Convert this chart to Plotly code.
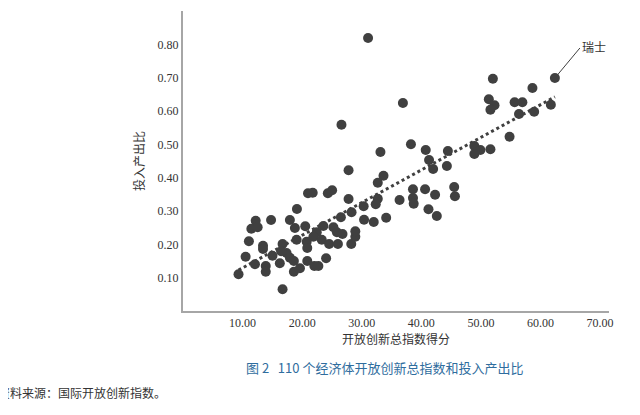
import numpy as np
import plotly.graph_objects as go

# 开放创新总指数得分 vs 投入产出比
score = [31.06, 62.42, 52.01, 58.65, 36.91, 51.33, 52.28, 51.6, 55.66, 56.96,
         56.4, 58.94, 61.74, 26.6, 54.81, 38.26, 40.74, 44.46, 33.14, 48.9,
         49.92, 51.6, 48.9, 41.3, 41.98, 44.29, 27.79, 33.65, 32.69, 45.52,
         45.64, 38.6, 40.63, 42.31, 36.35, 38.6, 38.72, 41.2, 42.6, 32.69,
         32.35, 30.32, 20.98, 21.77, 24.31, 25.03, 27.79, 28.29, 19.12, 26.5,
         30.39, 32.01, 34.1, 12.2, 14.78, 11.47, 12.53, 17.94, 18.78, 20.52,
         23.56, 25.25, 25.83, 26.77, 22.45, 21.88, 11.06, 19.07, 20.76, 23.29,
         24.53, 26.0, 28.24, 28.92, 28.92, 13.43, 16.71, 20.86, 15.02, 17.38,
         17.94, 10.51, 12.08, 13.89, 13.89, 16.25, 18.61, 20.86, 24.02, 18.61,
         19.63, 22.04, 22.72, 9.32, 16.71, 16.47, 13.43]
ratio = [0.819, 0.699, 0.697, 0.669, 0.624, 0.635, 0.617, 0.604, 0.626, 0.626,
         0.591, 0.598, 0.619, 0.559, 0.523, 0.500, 0.483, 0.480, 0.477, 0.495,
         0.483, 0.485, 0.471, 0.453, 0.426, 0.435, 0.422, 0.406, 0.385, 0.372,
         0.344, 0.365, 0.365, 0.349, 0.333, 0.339, 0.322, 0.305, 0.285, 0.337,
         0.320, 0.314, 0.353, 0.355, 0.353, 0.362, 0.336, 0.296, 0.306, 0.281,
         0.274, 0.267, 0.280, 0.271, 0.273, 0.247, 0.251, 0.273, 0.249, 0.254,
         0.255, 0.251, 0.236, 0.231, 0.236, 0.223, 0.209, 0.214, 0.208, 0.214,
         0.201, 0.201, 0.201, 0.223, 0.239, 0.196, 0.201, 0.189, 0.166, 0.174,
         0.160, 0.163, 0.140, 0.135, 0.118, 0.143, 0.150, 0.150, 0.158, 0.118,
         0.128, 0.135, 0.135, 0.110, 0.065, 0.179, 0.186]

x_ticks = [10, 20, 30, 40, 50, 60, 70]
y_ticks = [0.1, 0.2, 0.3, 0.4, 0.5, 0.6, 0.7, 0.8, 0.9]

slope, intercept = np.polyfit(score, ratio, 1)
trend_x = np.array([min(score), max(score)])
trend_y = slope * trend_x + intercept

serif = "Liberation Serif, Noto Sans CJK SC"

fig = go.Figure()
fig.add_trace(go.Scatter(
    x=trend_x, y=trend_y, mode="lines",
    line=dict(color="#404040", width=3, dash="dot"),
    hoverinfo="skip"
))
fig.add_trace(go.Scatter(
    x=score, y=ratio, mode="markers",
    marker=dict(color="#404040", size=10)
))

fig.add_annotation(
    x=score[1], y=ratio[1], text="瑞士", ax=25, ay=-30,
    xanchor="left", showarrow=True, arrowhead=0, arrowwidth=1,
    arrowcolor="#404040", font=dict(family=serif, size=12, color="#333333")
)
fig.add_annotation(
    x=0.474, y=-0.225, xref="paper", yref="paper", showarrow=False,
    text="图 2   110 个经济体开放创新总指数和投入产出比",
    font=dict(family="Noto Sans CJK SC", size=13, color="#2f6d9e")
)
fig.add_annotation(
    x=-0.44, y=-0.307, xref="paper", yref="paper", showarrow=False,
    xanchor="left", text="资料来源：国际开放创新指数。",
    font=dict(family="Noto Sans CJK SC", size=12, color="#333333")
)

fig.update_layout(
    width=640, height=415,
    margin=dict(l=175, r=39, t=3, b=112),
    paper_bgcolor="white", plot_bgcolor="white",
    showlegend=False,
    xaxis=dict(
        range=[0, 71.5], tickvals=x_ticks,
        ticktext=[f"{v:.2f}" for v in x_ticks],
        showgrid=False, zeroline=False, showline=True,
        linecolor="#a6a6a6", linewidth=2, ticks="",
        tickfont=dict(family=serif, size=12, color="#333333"),
        title=dict(text="开放创新总指数得分", standoff=6,
                   font=dict(family="Noto Sans CJK SC", size=12, color="#333333"))
    ),
    yaxis=dict(
        range=[0, 0.9], tickvals=y_ticks,
        ticktext=[f"{v:.2f}" for v in y_ticks],
        showgrid=False, zeroline=False, showline=True,
        linecolor="#a6a6a6", linewidth=2, ticks="", ticklen=0,
        tickfont=dict(family=serif, size=12, color="#333333"),
        title=dict(text="投入产出比", standoff=10,
                   font=dict(family="Noto Sans CJK SC", size=12, color="#333333"))
    )
)

fig.write_html("out.html")
